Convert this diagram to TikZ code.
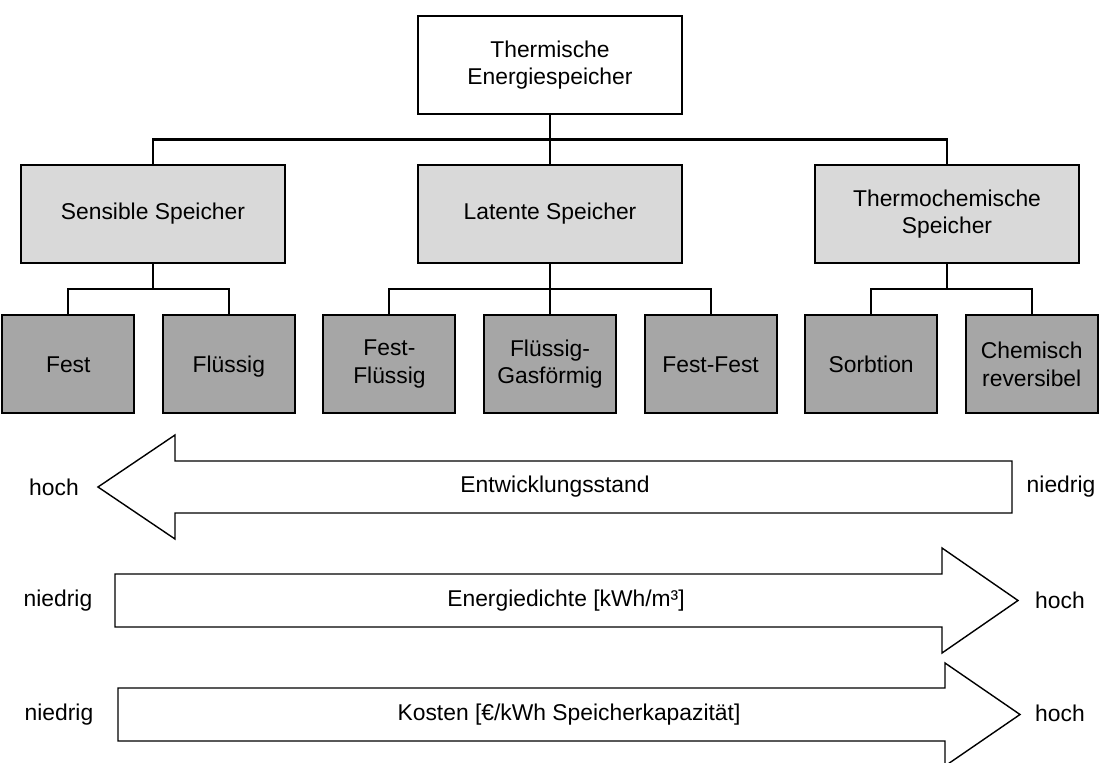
\documentclass[tikz,border=0pt]{standalone}
\usepackage{fontspec}
\setmainfont{Liberation Sans}
\usetikzlibrary{positioning,calc}
\definecolor{MidFill}{HTML}{D9D9D9}
\definecolor{LeafFill}{HTML}{A6A6A6}

\begin{document}
\begin{tikzpicture}[x=0.02cm,y=-0.02cm,node distance=1cm and 0.53cm,
    font=\fontsize{13}{15.6}\selectfont]
    \tikzset{hbox/.style={draw,line width=1.2pt,minimum width=5.28cm,
      minimum height=1.96cm,align=center},
      leaf/.style={draw,line width=1.2pt,fill=LeafFill,minimum width=2.64cm,
      minimum height=1.96cm,align=center},
      flat/.style={text depth=0pt},
      link/.style={draw,line width=1.2pt},
      blk/.style={draw,line width=0.8pt,fill=white}}
    \useasboundingbox (0,0) rectangle (1102,763);
    % tree
    \node[hbox,fill=white] (tes) at (550,65) {Thermische\\Energiespeicher};
    \node[hbox,fill=MidFill,below=0.98cm of tes] (lat) {Latente Speicher};
    \node[hbox,fill=MidFill,left=2.62cm of lat] (sen) {Sensible Speicher};
    \node[hbox,fill=MidFill,right=2.62cm of lat] (thc) {Thermochemische\\Speicher};
    \node[leaf,below=of lat] (fg) {Flüssig-\\Gasförmig};
    \node[leaf,left=of fg] (ff) {Fest-\\Flüssig};
    \node[leaf,flat,left=of ff] (fl) {Flüssig};
    \node[leaf,flat,left=of fl] (fe) {Fest};
    \node[leaf,flat,right=of fg] (fef) {Fest-Fest};
    \node[leaf,flat,right=of fef] (sor) {Sorbtion};
    \node[leaf,right=of sor] (che) {Chemisch\\reversibel};
    \draw[link] (tes) -- (lat);
    \draw[link] (sen.north) |- ($(tes.south)!.5!(lat.north)$) -| (thc.north);
    \draw[link] (sen.south) -- ++(0,25) coordinate (sj);
    \draw[link] (fe.north) |- (sj) -| (fl.north);
    \draw[link] (lat) -- (fg);
    \draw[link] (ff.north) |- ($(lat.south)!.5!(fg.north)$) -| (fef.north);
    \draw[link] (thc.south) -- ++(0,25) coordinate (tj);
    \draw[link] (sor.north) |- (tj) -| (che.north);
    % block arrows
    \draw[blk] (1012,461) -- (175,461) -- (175,435) -- (98,487) -- (175,539)
      -- (175,513) -- (1012,513) -- cycle;
    \node (ent) at (555,487) {Entwicklungsstand};
    \node (enth) at (54,487) {hoch};
    \node (entn) at (1061,487) {niedrig};
    \draw[blk] (115,574) -- (942,574) -- (942,548) -- (1018,600.5) -- (942,653)
      -- (942,627) -- (115,627) -- cycle;
    \node (ed) at (566,600.5) {Energiedichte [kWh/m³]};
    \node (edn) at (58,600.5) {niedrig};
    \node (edh) at (1060,600.5) {hoch};
    \draw[blk] (118,688) -- (945,688) -- (945,663) -- (1020,714.5) -- (945,766)
      -- (945,741) -- (118,741) -- cycle;
    \node (ko) at (569,714.5) {Kosten [€/kWh Speicherkapazität]};
    \node (kon) at (59,714.5) {niedrig};
    \node (koh) at (1060,713) {hoch};
\end{tikzpicture}
\end{document}
